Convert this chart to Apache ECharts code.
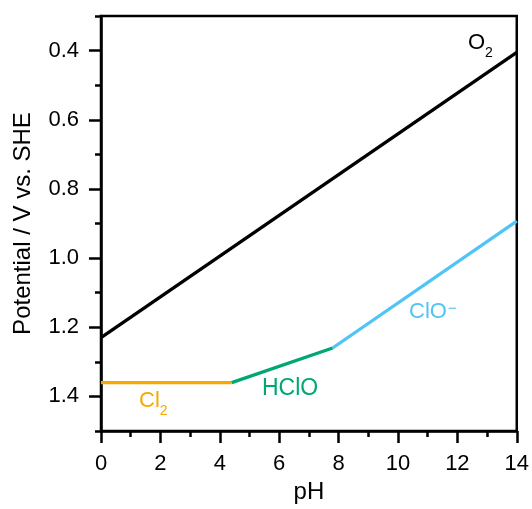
<!DOCTYPE html>
<html>
<head>
<meta charset="utf-8">
<script src="https://cdn.jsdelivr.net/npm/echarts@6/dist/echarts.min.js"></script>
<style>
  html, body { margin: 0; padding: 0; background: #fff; }
  #main { width: 532px; height: 509px; }
</style>
</head>
<body>
<div id="main"></div>
<script>
// Pourbaix-type lines: pH vs potential
var o2Ph = [0, 14];
var o2E = [1.23, 0.405];
var cl2Ph = [0, 4.4];
var cl2E = [1.36, 1.36];
var hcloPh = [4.4, 7.8];
var hcloE = [1.36, 1.26];
var cloPh = [7.8, 14];
var cloE = [1.26, 0.893];

var yMajor = [0.4, 0.6, 0.8, 1.0, 1.2, 1.4];
var yMinor = [0.3, 0.5, 0.7, 0.9, 1.1, 1.3, 1.5];

var FONT = 'Liberation Sans, Arial, sans-serif';
var ORANGE = '#f6a800', GREEN = '#00a774', BLUE = '#50c4f6';

function pairs(xs, ys) {
  return xs.map(function (x, i) { return [x, ys[i]]; });
}

function lineSeries(name, xs, ys, color) {
  return {
    name: name,
    type: 'line',
    data: pairs(xs, ys),
    symbol: 'none',
    lineStyle: { color: color, width: 3.3 },
    animation: false
  };
}

// text with a lowered (sub) or raised (sup) small part
function chemLabel(main, small, color, left, top, sub) {
  return {
    type: 'text', left: left, top: top, silent: true,
    style: {
      text: '{m|' + main + '}{s|' + small + '}',
      rich: {
        m: { fontFamily: FONT, fontSize: 22, lineHeight: 22, verticalAlign: 'top', fill: color },
        s: sub
          ? { fontFamily: FONT, fontSize: 14, lineHeight: 14, padding: [14, 0, 0, 0], verticalAlign: 'top', fill: color }
          : { fontFamily: FONT, fontSize: 15, lineHeight: 10, padding: [0, 0, 0, 1], verticalAlign: 'top', fill: color }
      }
    }
  };
}

var chart = echarts.init(document.getElementById('main'), null, { renderer: 'canvas' });

var yBase = {
  type: 'value',
  position: 'left',
  offset: 0,
  min: 0.3,
  max: 1.5,
  inverse: true,
  splitLine: { show: false }
};

chart.setOption({
  backgroundColor: '#fff',
  animation: false,
  grid: {
    left: 101, right: 15, top: 16, bottom: 77,
    show: true, borderColor: '#000', borderWidth: 2.5, backgroundColor: 'transparent'
  },
  xAxis: {
    type: 'value',
    min: 0,
    max: 14,
    interval: 2,
    name: 'pH',
    nameLocation: 'middle',
    nameGap: 49,
    nameTextStyle: { fontFamily: FONT, fontSize: 24, color: '#000' },
    axisLine: { show: true, onZero: false, lineStyle: { color: '#000', width: 2.5 } },
    axisTick: { show: true, inside: false, length: 12, lineStyle: { color: '#000', width: 2.5 } },
    minorTick: { show: true, splitNumber: 2, length: 6, lineStyle: { color: '#000', width: 2.5 } },
    axisLabel: { fontFamily: FONT, fontSize: 22, color: '#000', margin: 22 },
    splitLine: { show: false }
  },
  yAxis: [
    Object.assign({}, yBase, {
      name: 'Potential / V vs. SHE',
      nameLocation: 'middle',
      nameGap: 66,
      nameTextStyle: { fontFamily: FONT, fontSize: 24, color: '#000' },
      axisLine: { show: true, onZero: false, lineStyle: { color: '#000', width: 2.5 } },
      axisTick: { show: true, length: 12, customValues: yMajor, lineStyle: { color: '#000', width: 2.5 } },
      axisLabel: {
        fontFamily: FONT, fontSize: 22, color: '#000', margin: 22,
        customValues: yMajor,
        formatter: function (v) { return v.toFixed(1); }
      }
    }),
    Object.assign({}, yBase, {
      axisLine: { show: false },
      axisTick: { show: true, length: 6, customValues: yMinor, lineStyle: { color: '#000', width: 2.5 } },
      axisLabel: { show: false }
    })
  ],
  series: [
    lineSeries('O2', o2Ph, o2E, '#000000'),
    lineSeries('Cl2', cl2Ph, cl2E, ORANGE),
    lineSeries('HClO', hcloPh, hcloE, GREEN),
    lineSeries('ClO-', cloPh, cloE, BLUE)
  ],
  graphic: [
    chemLabel('O', '2', '#000', 468, 32, true),
    chemLabel('Cl', '2', ORANGE, 139, 390, true),
    {
      type: 'text', left: 262, top: 377, silent: true,
      style: { text: 'HClO', font: '23px ' + FONT, fill: GREEN }
    },
    chemLabel('ClO', '\u2212', BLUE, 409, 301, false)
  ]
});
</script>
</body>
</html>
